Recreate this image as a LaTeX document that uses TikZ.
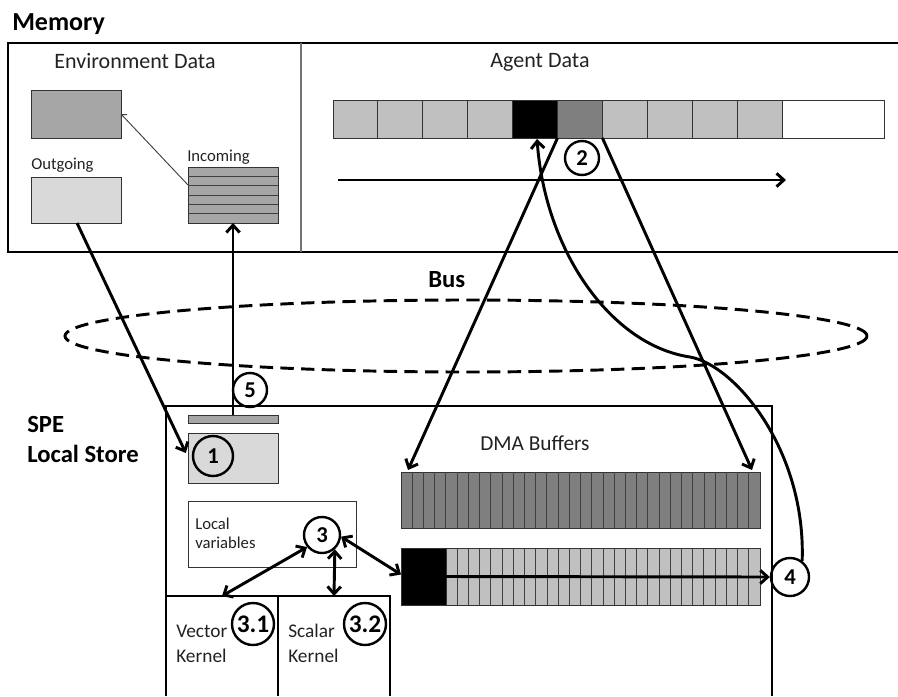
\documentclass[tikz,border=0pt]{standalone}
\usepackage{fontspec}
\setmainfont{Carlito}
\usetikzlibrary{arrows.meta,calc}
\definecolor{lite}{HTML}{C0C0C0}
\definecolor{dark}{HTML}{7F7F7F}
\definecolor{mid}{HTML}{A6A6A6}
\definecolor{pale}{HTML}{D9D9D9}
\definecolor{txt}{HTML}{222222}
\begin{document}
\begin{tikzpicture}[x=0.75pt,y=-0.75pt,
  frame/.style={line width=2.2pt},
  wh/.style 2 args={minimum width=#1*0.75pt, minimum height=#2*0.75pt},
  sq/.style={draw=black!80, line width=0.7pt, inner sep=0pt, outer sep=0pt, anchor=north west},
  cellline/.style={draw=black!75, line width=0.6pt},
  arr/.style={line width=2.2pt, -{Straight Barb[length=5.5pt,width=10pt]}},
  darr/.style={line width=2.2pt, {Straight Barb[length=5.5pt,width=10pt]}-{Straight Barb[length=5.5pt,width=10pt]}},
  thinarr/.style={line width=0.7pt, draw=black!75, -{Straight Barb[length=3pt,width=6pt]}},
  num/.style={circle, draw, line width=1.8pt, inner sep=0pt, minimum size=#1*0.75pt,
              font=\bfseries\fontsize{17}{17}\selectfont},
  bignum/.style={num=#1, font=\bfseries\fontsize{19}{19}\selectfont},
  head/.style={inner sep=0pt, font=\bfseries\fontsize{18.5}{20}\selectfont},
  lbl/.style={inner sep=0pt, text=txt, font=\fontsize{16.5}{18}\selectfont},
  small/.style={inner sep=0pt, text=txt, font=\fontsize{12.5}{14}\selectfont},
  kern/.style={inner sep=0pt, text=txt, font=\fontsize{14.5}{16}\selectfont},
  busline/.style={line width=2.2pt, dash pattern=on 10pt off 5.5pt}
]
\useasboundingbox (0,0) rectangle (898,696);

% ---------------- main memory ----------------
\draw[frame] (898,43) -- (8,43) -- (8,252) -- (898,252);
\draw[black!55, line width=0.8pt] (301,43) -- (301,252);
\node[head, font=\bfseries\fontsize{19.5}{20}\selectfont, anchor=base west] (memlbl) at (12,31) {Memory};

% environment data
\node[lbl, anchor=base] (envlbl) at (135,68) {Environment Data};
\node[sq, fill=mid, wh={90}{48}] (envbox) at (31,90) {};
\node[small, anchor=base west] (outlbl) at (31,169) {Outgoing};
\node[sq, fill=pale, wh={90}{46}] (outg) at (31,177) {};
\node[small, anchor=base west] (inlbl) at (187,161) {Incoming};
\node[sq, fill=mid, wh={90}{56}] (inc) at (188,167) {};
\foreach \k in {1,...,5}
  \draw[cellline] (188,{167+\k*9.33}) -- ++(90,0);

% agent data
\node[lbl, anchor=base] (aglbl) at (540,67) {Agent Data};
\foreach \i/\c in {0/lite,1/lite,2/lite,3/lite,4/black,5/dark,6/lite,7/lite,8/lite,9/lite}
  \node[sq, fill=\c, wh={44.9}{38}] (ag\i) at ({333+44.9*\i},100) {};
\node[sq, fill=white, wh={102}{38}] (agw) at (782,100) {};
\coordinate (flowA) at (338,180);
\coordinate (flowB) at (786,180);
\draw[arr] (flowA) -- (flowB);
\node[num=34] (c2) at (582,158) {2};

% ---------------- bus ----------------
\draw[busline] (466,336) ellipse [x radius=300.75pt, y radius=27pt];
\node[head, anchor=base west] (buslbl) at (428,287) {Bus};

% ---------------- SPE local store ----------------
\draw[frame] (166,696) -- (166,406) -- (772,406) -- (772,696);
\node[head, anchor=base west] (spelbl) at (27,432) {SPE};
\node[head, anchor=base west] (lslbl) at (27,462) {Local Store};

\node[sq, fill=mid, wh={90}{8}] (spebar) at (188,415) {};
\node[sq, fill=pale, wh={90}{50}] (box1) at (188,433) {};
\node[num=40] (c1) at (213,456) {1};
\node[num=34] (c5) at (250,390) {5};

% local variables
\node[sq, fill=white, wh={168}{66}] (lvbox) at (188,501) {};
\node[small, anchor=base west] (lv1) at (195,529) {Local};
\node[small, anchor=base west] (lv2) at (195,548) {variables};
\node[num=36] (c3) at (322,535) {3};

% kernels
\draw[frame] (166,596) -- (390,596) -- (390,696);
\draw[frame] (278,596) -- (278,696);
\coordinate (vkTop) at (222,596);
\coordinate (skTop) at (334,596);
\node[kern, anchor=base west] (vk1) at (176,637) {Vector};
\node[kern, anchor=base west] (vk2) at (176,662) {Kernel};
\node[kern, anchor=base west] (sk1) at (288,637) {Scalar};
\node[kern, anchor=base west] (sk2) at (288,662) {Kernel};
\node[bignum=42] (c31) at (253,624) {3.1};
\node[bignum=42] (c32) at (365,624) {3.2};

% DMA buffers
\node[lbl, font=\fontsize{16}{18}\selectfont, anchor=base west] (dmalbl) at (480,450) {DMA Buffers};
\node[sq, fill=dark, wh={359}{56}] (dmaTop) at (401,472) {};
\foreach \k in {1,...,31}
  \draw[cellline] ({401+\k*11.22},472) -- ++(0,56);
\node[sq, fill=black, wh={45}{57}] (dmaBlk) at (401,548) {};
\node[sq, fill=lite, wh={314}{57}] (dmaLite) at (446,548) {};
\foreach \k in {1,...,27}
  \draw[cellline] ({446+\k*11.21},548) -- ++(0,57);
\node[num=38] (c4) at (790,577) {4};

% ---------------- transfers ----------------
\draw[thinarr] ($(inc.north west)+(0,18)$) -- (envbox.east);
\draw[arr] ($(outg.south west)+(46,0)$) -- ($(c1.west)+(-6,-3)$);
\draw[arr] (spebar.north) -- (inc.south);
\draw[arr] (ag4.south east) -- ($(dmaTop.north west)+(7,-2)$);
\draw[arr] (ag5.south east) -- ($(dmaTop.north east)+(-8,-2)$);
\draw[arr] (dmaBlk.east) -- (c4.west);
\coordinate (wbEnd) at ($(ag4.south)+(2,1)$);
\draw[arr] (c4.53) .. controls (806,450) and (735,365) .. (690,357)
                   .. controls (610,345) and (545,250) .. (wbEnd);
\draw[darr] (c3.-141) -- (vkTop);
\draw[darr] (c3.-48) -- (skTop);
\draw[darr] (c3.-5) -- ($(dmaBlk.west)+(0,-2)$);
\end{tikzpicture}
\end{document}
